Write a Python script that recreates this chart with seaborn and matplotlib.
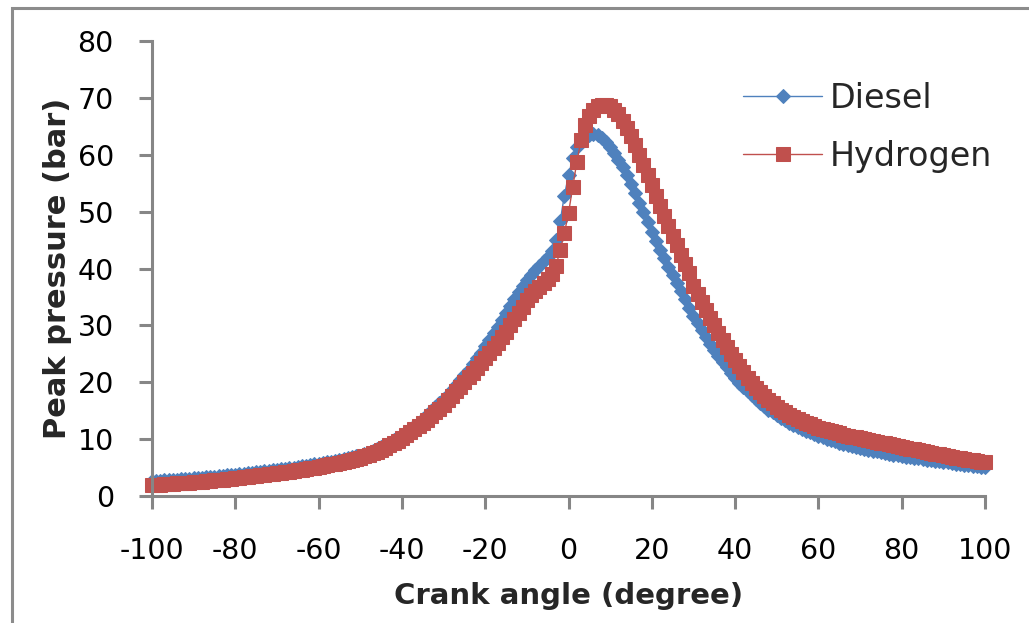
import matplotlib
matplotlib.use('Agg')
import matplotlib.pyplot as plt
from matplotlib.patches import Rectangle
import seaborn as sns
import numpy as np
import pandas as pd

# Crank angle, one reading per degree
crank_angle = list(range(-100, 101))

diesel = [
    2.6, 2.65, 2.7, 2.75, 2.8, 2.85, 2.9, 2.95, 3.0, 3.05,
    3.1, 3.16, 3.22, 3.28, 3.34, 3.4, 3.47, 3.54, 3.61, 3.68,
    3.75, 3.83, 3.91, 3.99, 4.07, 4.15, 4.24, 4.33, 4.42, 4.51,
    4.6, 4.7, 4.8, 4.9, 5.0, 5.1, 5.22, 5.34, 5.46, 5.58,
    5.6, 5.75, 5.9, 6.05, 6.2, 6.35, 6.5, 6.65, 6.8, 6.95,
    7.05, 7.3, 7.55, 7.85, 8.2, 8.6, 8.95, 9.35, 9.8, 10.25,
    10.7, 11.2, 11.7, 12.3, 12.9, 13.5, 14.2, 14.9, 15.6, 16.3,
    17.0, 17.8, 18.6, 19.5, 20.4, 21.3, 22.2, 23.2, 24.2, 25.2,
    26.3, 27.4, 28.6, 29.8, 31.0, 32.2, 33.4, 34.6, 35.8, 37.0,
    38.0, 38.9, 39.7, 40.5, 41.3, 42.1, 43.0, 45.0, 48.3, 52.8,
    56.4, 59.4, 61.4, 62.6, 63.2, 63.5, 63.6, 63.4, 63.0, 62.3,
    61.4, 60.3, 59.1, 57.8, 56.4, 54.9, 53.3, 51.6, 49.9, 48.2,
    46.5, 44.9, 43.3, 41.8, 40.3, 38.8, 37.4, 36.0, 34.6, 33.1,
    31.7, 30.4, 29.2, 28.0, 26.8, 25.7, 24.6, 23.6, 22.6, 21.6,
    20.7, 19.9, 19.1, 18.4, 17.7, 17.0, 16.4, 15.8, 15.2, 14.7,
    14.2, 13.7, 13.3, 12.9, 12.5, 12.1, 11.8, 11.5, 11.2, 10.9,
    10.6, 10.35, 10.1, 9.85, 9.6, 9.4, 9.2, 9.0, 8.8, 8.6,
    8.45, 8.3, 8.15, 8.0, 7.85, 7.7, 7.55, 7.4, 7.28, 7.16,
    7.04, 6.92, 6.8, 6.7, 6.6, 6.5, 6.4, 6.3, 6.2, 6.1,
    6.0, 5.9, 5.8, 5.7, 5.6, 5.5, 5.42, 5.34, 5.26, 5.18,
    5.1,
]

hydrogen = [
    1.9, 1.95, 2.0, 2.05, 2.1, 2.15, 2.2, 2.25, 2.3, 2.35,
    2.4, 2.47, 2.54, 2.61, 2.68, 2.75, 2.82, 2.89, 2.96, 3.03,
    3.1, 3.18, 3.27, 3.36, 3.45, 3.54, 3.63, 3.72, 3.81, 3.9,
    4.0, 4.1, 4.2, 4.3, 4.4, 4.5, 4.6, 4.75, 4.9, 5.0,
    5.1, 5.25, 5.4, 5.55, 5.7, 5.85, 6.0, 6.15, 6.35, 6.5,
    6.7, 6.95, 7.2, 7.5, 7.8, 8.15, 8.5, 8.9, 9.3, 9.75,
    10.2, 10.7, 11.2, 11.7, 12.25, 12.8, 13.4, 14.0, 14.7, 15.3,
    16.0, 16.8, 17.6, 18.4, 19.2, 20.0, 20.85, 21.7, 22.5, 23.35,
    24.2, 25.1, 26.0, 26.9, 27.9, 28.9, 30.0, 31.1, 32.2, 33.3,
    34.4, 35.3, 36.1, 36.8, 37.5, 38.2, 39.0, 40.5, 43.2, 46.2,
    49.7, 54.3, 58.7, 62.6, 65.2, 66.9, 67.9, 68.5, 68.8, 68.8,
    68.5, 67.9, 67.1, 66.0, 64.7, 63.3, 61.7, 60.0, 58.2, 56.4,
    54.6, 52.8, 51.0, 49.2, 47.5, 45.8, 44.1, 42.4, 40.8, 39.2,
    37.0, 35.5, 34.1, 32.7, 31.3, 30.0, 28.7, 27.4, 26.2, 25.0,
    23.9, 22.8, 21.8, 20.8, 19.9, 19.0, 18.3, 17.6, 16.9, 16.3,
    15.7, 15.2, 14.7, 14.3, 13.9, 13.5, 13.2, 12.9, 12.6, 12.3,
    12.0, 11.8, 11.6, 11.4, 11.2, 11.0, 10.8, 10.6, 10.45, 10.3,
    10.15, 10.0, 9.85, 9.7, 9.55, 9.4, 9.25, 9.1, 8.95, 8.8,
    8.65, 8.5, 8.35, 8.2, 8.05, 7.9, 7.75, 7.6, 7.45, 7.3,
    7.15, 7.0, 6.88, 6.76, 6.64, 6.52, 6.4, 6.28, 6.16, 6.04,
    5.92,
]

x_ticks = [-100, -80, -60, -40, -20, 0, 20, 40, 60, 80, 100]
y_ticks = [0, 10, 20, 30, 40, 50, 60, 70, 80]

sns.set_theme(style='white')
plt.rcParams['font.family'] = ['DejaVu Sans']

blue = '#4F81BD'
red = '#C0504D'
grey = '#868686'

fig = plt.figure(figsize=(10.29, 6.23), dpi=100)
ax = fig.add_axes([152 / 1029, 1 - 496 / 623, 833 / 1029, 455 / 623])

sns.lineplot(x=crank_angle, y=diesel, ax=ax, color=blue, lw=1, marker='D',
             markersize=7.5, markeredgecolor=blue, label='Diesel', clip_on=False)
sns.lineplot(x=crank_angle, y=hydrogen, ax=ax, color=red, lw=1, marker='s',
             markersize=10.5, markeredgecolor=red, label='Hydrogen', clip_on=False)

ax.set_xlim(-100, 100)
ax.set_ylim(0, 80)
ax.set_xticks(x_ticks)
ax.set_yticks(y_ticks)
ax.set_xticklabels([str(t) for t in x_ticks])

for side in ['top', 'right']:
    ax.spines[side].set_visible(False)
for side in ['left', 'bottom']:
    ax.spines[side].set_color(grey)
    ax.spines[side].set_linewidth(2.2)

ax.tick_params(axis='both', which='major', direction='out', length=9.5, width=2.2,
               color=grey, labelsize=20.5, labelcolor='black')
ax.tick_params(axis='x', bottom=True, pad=20)
ax.tick_params(axis='y', left=True, pad=18)

ax.set_xlabel('Crank angle (degree)', fontsize=21, fontweight='bold', labelpad=12)
ax.set_ylabel('Peak pressure (bar)', fontsize=22, fontweight='bold', labelpad=4)

ax.legend(loc='upper left', bbox_to_anchor=(0.7095, 0.91), frameon=False, fontsize=24,
          handlelength=2.37, handletextpad=0.24, labelspacing=0.74, borderpad=0,
          borderaxespad=0)

# grey chart-area frame (only left and top edges are in view)
fig.add_artist(Rectangle((12 / 1029, -0.2), 1.5, 1.2 - 8 / 623, transform=fig.transFigure,
                         fill=False, edgecolor='#8c8c8c', lw=2.2, clip_on=False))

fig.savefig('out.png', dpi=100)
